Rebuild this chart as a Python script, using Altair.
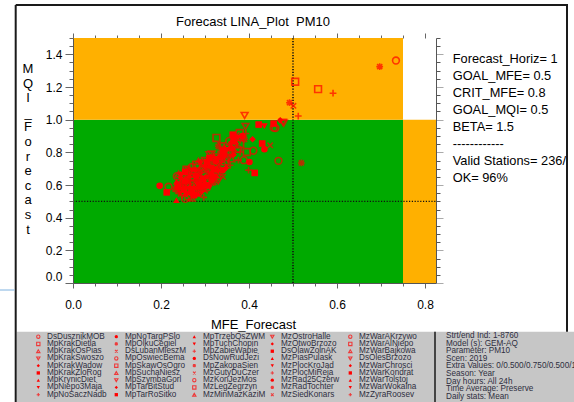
import altair as alt
import pandas as pd

FONT = "Liberation Sans"
RED = "#ff0000"

# ---------------- target values and diagram zones ----------------
GOAL_MFE = 0.5
GOAL_MQI = 0.5
MFE_MAX = 0.825
MQI_MAX = 1.5

zone_x0 = [0.0, 0.0, 0.75]
zone_x1 = [0.75, 0.75, 0.825]
zone_y0 = [0.0, 1.0, 0.0]
zone_y1 = [1.0, 1.5, 1.0]
zone_fill = ["#00aa00", "#ffb000", "#ffb000"]

# ---------------- station results ----------------
# marker codes: o open circle, s open square, tu/td open triangles, D diamond,
# S filled square, TU/TD filled triangles, + plus, O filled circle, * asterisk, x cross
MARKERS = ["o", "s", "tu", "td", "D", "S", "TU", "TD", "+", "O", "*", "x"]

spread_mfe = [0.734, 0.697, 0.505, 0.557, 0.591, 0.492, 0.501, 0.512, 0.471, 0.477,
              0.456, 0.467, 0.519, 0.448, 0.390, 0.392, 0.422, 0.435, 0.456, 0.460,
              0.479, 0.326, 0.363, 0.379, 0.393, 0.408, 0.430, 0.435, 0.330, 0.399,
              0.413, 0.197, 0.217, 0.213, 0.297, 0.341, 0.380, 0.376, 0.395, 0.410,
              0.401, 0.388, 0.357, 0.235, 0.236]
spread_mqi = [1.362, 1.325, 1.232, 1.187, 1.162, 1.104, 1.085, 1.022, 0.996, 0.985,
              0.951, 0.748, 0.735, 0.843, 1.026, 0.959, 0.970, 0.961, 0.976, 0.949,
              0.979, 0.888, 0.908, 0.918, 0.915, 0.880, 0.854, 0.819, 0.837, 0.691,
              0.674, 0.595, 0.589, 0.555, 0.524, 0.650, 0.802, 0.752, 0.802, 0.810,
              0.741, 0.752, 0.721, 0.508, 0.654]
spread_marker = ["o", "*", "s", "s", "+", "*", "x", "+", "D", "td",
                 "o", "o", "*", "x", "td", "td", "S", "TD", "S", "o",
                 "td", "s", "S", "s", "+", "D", "S", "O", "*", "+",
                 "S", "O", "o", "S", "+", "x", "+", "+", "s", "o",
                 "O", "o", "+", "TU", "o"]

core_mfe = [0.255, 0.262, 0.270, 0.248, 0.258, 0.275, 0.285, 0.292, 0.240, 0.268,
            0.232, 0.240, 0.245, 0.250, 0.255, 0.260, 0.265, 0.270, 0.275, 0.280,
            0.285, 0.290, 0.295, 0.300, 0.305, 0.248, 0.262, 0.278, 0.310, 0.238,
            0.235, 0.245, 0.250, 0.255, 0.260, 0.265, 0.270, 0.275, 0.280, 0.285,
            0.290, 0.295, 0.300, 0.305, 0.310, 0.315, 0.320, 0.325, 0.272, 0.258,
            0.288, 0.330, 0.245, 0.255, 0.265, 0.270, 0.275, 0.280, 0.285, 0.290,
            0.295, 0.300, 0.305, 0.310, 0.315, 0.320, 0.325, 0.330, 0.335, 0.340,
            0.260, 0.312, 0.270, 0.280, 0.290, 0.295, 0.300, 0.305, 0.310, 0.315,
            0.320, 0.325, 0.330, 0.335, 0.340, 0.345, 0.285, 0.300, 0.348, 0.310,
            0.320, 0.325, 0.330, 0.335, 0.340, 0.345, 0.350, 0.355, 0.360, 0.315,
            0.365, 0.340, 0.345, 0.350, 0.355, 0.360, 0.365, 0.370, 0.375, 0.380,
            0.352, 0.338, 0.360, 0.365, 0.370, 0.375, 0.380, 0.385, 0.390, 0.372,
            0.355, 0.258, 0.240, 0.310, 0.289, 0.252, 0.266, 0.282, 0.298, 0.318,
            0.243, 0.268, 0.293, 0.308, 0.322, 0.262, 0.278, 0.302, 0.328, 0.344]
core_mqi = [0.515, 0.530, 0.520, 0.540, 0.545, 0.538, 0.545, 0.550, 0.548, 0.552,
            0.575, 0.565, 0.580, 0.560, 0.590, 0.570, 0.585, 0.565, 0.595, 0.575,
            0.560, 0.590, 0.575, 0.565, 0.585, 0.598, 0.600, 0.555, 0.595, 0.590,
            0.620, 0.635, 0.610, 0.625, 0.645, 0.615, 0.630, 0.610, 0.640, 0.620,
            0.605, 0.635, 0.620, 0.645, 0.610, 0.630, 0.615, 0.640, 0.648, 0.605,
            0.648, 0.625, 0.665, 0.680, 0.660, 0.690, 0.670, 0.655, 0.685, 0.665,
            0.695, 0.675, 0.660, 0.685, 0.670, 0.695, 0.660, 0.680, 0.665, 0.690,
            0.695, 0.698, 0.710, 0.725, 0.705, 0.735, 0.715, 0.740, 0.720, 0.705,
            0.730, 0.745, 0.710, 0.735, 0.720, 0.745, 0.745, 0.750, 0.705, 0.765,
            0.780, 0.760, 0.790, 0.770, 0.755, 0.785, 0.770, 0.795, 0.760, 0.790,
            0.785, 0.810, 0.830, 0.815, 0.845, 0.825, 0.810, 0.840, 0.820, 0.850,
            0.800, 0.840, 0.860, 0.875, 0.865, 0.890, 0.875, 0.900, 0.880, 0.905,
            0.870, 0.694, 0.667, 0.786, 0.741, 0.572, 0.558, 0.602, 0.628, 0.652,
            0.608, 0.672, 0.612, 0.702, 0.758, 0.632, 0.692, 0.598, 0.702, 0.772]

# ---------------- station names of the legend ----------------
stations = [
    "DsDusznikMOB", "MpKrakDietla", "MpKrakOsPias", "MpKrakSwoszo", "MpKrakWadow",
    "MpKrakZloRog", "MpKrynicDiet", "MpNiepo3Maja", "MpNoSaczNadb",
    "MpNoTargPSlo", "MpOlkuCegiel", "DsLubanMieszM", "MpOswiecBema", "MpSkawOsOgro",
    "MpSuchaNiesz", "MpSzymbaGorl", "MpTarBitStud", "MpTarRoSitko",
    "MpTrzebOsZWM", "MpTuchChopin", "MpZabieWapie", "DsNowRudJezi", "MpZakopaSien",
    "MzGutyDuCzer", "MzKonJezMos", "MzLegZegrzyn", "MzMinMazKaziM",
    "MzOstroHalle", "MzOtwoBrzozo", "DsOlawZolnAK", "MzPiasPulask", "MzPlocKroJad",
    "MzPlocMiReja", "MzRad25Czerw", "MzRadTochter", "MzSiedKonars",
    "MzWarAKrzywo", "MzWarAlNiepo", "MzWarBajkowa", "DsOlesBrzozo", "MzWarChrosci",
    "MzWarKondrat", "MzWarTolstoj", "MzWarWokalna", "MzZyraRoosev",
]

settings_lines = ["Forecast_Horiz= 1", "GOAL_MFE= 0.5", "CRIT_MFE= 0.8", "GOAL_MQI= 0.5",
                  "BETA= 1.5", "------------", "Valid Stations= 236/246", "OK= 96%"]
info_lines = ["Strt/end Ind: 1-8760", "Model (s): GEM-AQ", "Parameter: PM10", "Scen: 2019",
              "Extra Values: 0/0.500/0.750/0.500/1.500", "Season: Year", "Day hours: All 24h",
              "Time Average: Preserve", "Daily stats: Mean"]

# ---------------- tables ----------------
pts = pd.DataFrame({
    "mfe": spread_mfe + core_mfe,
    "mqi": spread_mqi + core_mqi,
    "marker": spread_marker + [MARKERS[i % 12] for i in range(len(core_mfe))],
})
OPEN = ["o", "s", "tu", "td", "+", "*", "x"]
pts_open = pts[pts.marker.isin(OPEN)]
pts_fill = pts[~pts.marker.isin(OPEN)]

zones = pd.DataFrame({"x0": zone_x0, "x1": zone_x1, "y0": zone_y0, "y1": zone_y1, "c": zone_fill})

# legend grid: 9 rows per column, positions in pixels relative to the plot origin
ROWS = 9
leg = pd.DataFrame({
    "name": stations,
    "marker": [MARKERS[i % 12] for i in range(len(stations))],
    "mx": [-34.7 + 78 * (i // ROWS) for i in range(len(stations))],
    "tx": [-26.0 + 78 * (i // ROWS) for i in range(len(stations))],
    "ly": [298.7 + 7.25 * (i % ROWS) for i in range(len(stations))],
})
leg_open = leg[leg.marker.isin(OPEN)]
leg_fill = leg[~leg.marker.isin(OPEN)]

# ---------------- scales / shapes ----------------
xs = alt.Scale(domain=[0, MFE_MAX], nice=False, zero=False)
ys = alt.Scale(domain=[0, MQI_MAX], nice=False, zero=False)

PLUS = "M-1,0L1,0M0,-1L0,1"
CROSS = "M-0.8,-0.8L0.8,0.8M-0.8,0.8L0.8,-0.8"
ASTER = "M-1,0L1,0M0,-1L0,1M-0.75,-0.75L0.75,0.75M-0.75,0.75L0.75,-0.75"
shape_scale = alt.Scale(
    domain=MARKERS,
    range=["circle", "square", "triangle-up", "triangle-down", "diamond", "square",
           "triangle-up", "triangle-down", PLUS, "circle", ASTER, CROSS],
)

xticks = [round(0.05 * i, 2) for i in range(17)]
yticks = [round(0.05 * i, 2) for i in range(31)]
MAJOR = "abs(datum.value*5 - round(datum.value*5)) < 0.001"
LABEL = f"{MAJOR} ? format(datum.value, '.1f') : ''"


def ticksize(major, minor):
    return {"condition": {"test": MAJOR, "value": major}, "value": minor}


# ---------------- layers ----------------
zone_layer = alt.Chart(zones).mark_rect().encode(
    x=alt.X("x0:Q", scale=xs, axis=None), x2="x1:Q",
    y=alt.Y("y0:Q", scale=ys, axis=None), y2="y1:Q",
    color=alt.Color("c:N", scale=None),
)

vgoal = alt.Chart(pd.DataFrame({"x": [GOAL_MFE], "y0": [0.0], "y1": [MQI_MAX]})).mark_rule(
    color="#111111", strokeWidth=1.6, strokeDash=[1.2, 1.6]
).encode(x=alt.X("x:Q", scale=xs, axis=None), y=alt.Y("y0:Q", scale=ys, axis=None), y2="y1:Q")

hgoal = alt.Chart(pd.DataFrame({"y": [GOAL_MQI], "x0": [0.0], "x1": [MFE_MAX]})).mark_rule(
    color="#111111", strokeWidth=1.3, strokeDash=[1.2, 1.6]
).encode(y=alt.Y("y:Q", scale=ys, axis=None), x=alt.X("x0:Q", scale=xs, axis=None), x2="x1:Q")

axis_common = dict(grid=False, zindex=1, title=None, labelFont=FONT, labelColor="#000000",
                   labelOverlap=False, tickColor="#666666", domainColor="#555555")

open_layer = alt.Chart(pts_open).mark_point(filled=False, strokeWidth=1.6, size=46, color=RED).encode(
    x=alt.X("mfe:Q", scale=xs, axis=alt.Axis(
        orient="bottom", values=xticks, labelExpr=LABEL, labelFontSize=12, labelFlush=False,
        tickSize=ticksize(5, 3), labelPadding=11, **axis_common)),
    y=alt.Y("mqi:Q", scale=ys, axis=alt.Axis(
        orient="left", values=yticks, labelExpr=LABEL, labelFontSize=12, labelFlush=True,
        tickSize=ticksize(8, 4), labelPadding=3, **axis_common)),
    shape=alt.Shape("marker:N", scale=shape_scale, legend=None),
)

frame_axes = alt.Chart(pts).mark_point(opacity=0).encode(
    x=alt.X("mfe:Q", scale=xs, axis=alt.Axis(
        orient="top", values=xticks, labels=False, domain=False, tickSize=ticksize(5, 3),
        grid=False, title=None, tickColor="#666666")),
    y=alt.Y("mqi:Q", scale=ys, axis=alt.Axis(
        orient="right", values=yticks, labels=False, tickSize=ticksize(7, 4), grid=False,
        title=None, zindex=1, domainColor="#555555",
        tickColor={"condition": {"test": MAJOR, "value": "#aaaaaa"}, "value": "#555555"})),
)

fill_layer = alt.Chart(pts_fill).mark_point(filled=True, size=44, color=RED, opacity=1).encode(
    x=alt.X("mfe:Q", scale=xs, axis=None),
    y=alt.Y("mqi:Q", scale=ys, axis=None),
    shape=alt.Shape("marker:N", scale=shape_scale, legend=None),
)


def text(lines, x, y, size, color="#000000", **kw):
    return alt.Chart(pd.DataFrame({"k": [0]})).mark_text(
        font=FONT, fontSize=size, color=color, **kw
    ).encode(x=alt.value(x), y=alt.value(y), text=alt.value(lines))


title = text("Forecast LINA_Plot\u00a0 PM10", 180, -12, 13, align="center", baseline="alphabetic")
xtitle = text("MFE_Forecast", 180.5, 290.5, 13, align="center", baseline="alphabetic")
ytitle = text(list("MQI_Forecast"), -45, 25, 13, align="center", baseline="top", lineHeight=14.6)
settings = text(settings_lines, 379.7, 15, 12.8, align="left", baseline="top", lineHeight=17)
info = text(info_lines, 373, 294, 8.2, color="#2e2e3e", align="left", baseline="top", lineHeight=7.6)


def box(x, x2, y, y2, color):
    return alt.Chart(pd.DataFrame({"k": [0]})).mark_rect(color=color).encode(
        x=alt.value(x), x2=alt.value(x2), y=alt.value(y), y2=alt.value(y2))


def line(x, x2, y, y2, color, width):
    return alt.Chart(pd.DataFrame({"k": [0]})).mark_rule(color=color, strokeWidth=width).encode(
        x=alt.value(x), x2=alt.value(x2), y=alt.value(y), y2=alt.value(y2))


clip_right = box(495, 520, -40, 294, "#ffffff")
panel = box(-56.3, 520, 293.7, 380, "#c6c6c6")
separator = line(362, 362, 293.7, 380, "#444444", 2)

leg_open_layer = alt.Chart(leg_open).mark_point(filled=False, size=11, strokeWidth=1.1, color=RED).encode(
    x=alt.X("mx:Q", scale=None, axis=None), y=alt.Y("ly:Q", scale=None, axis=None),
    shape=alt.Shape("marker:N", scale=shape_scale, legend=None),
)
leg_fill_layer = alt.Chart(leg_fill).mark_point(filled=True, size=11, color=RED, opacity=1).encode(
    x=alt.X("mx:Q", scale=None, axis=None), y=alt.Y("ly:Q", scale=None, axis=None),
    shape=alt.Shape("marker:N", scale=shape_scale, legend=None),
)
leg_names = alt.Chart(leg).mark_text(
    font=FONT, fontSize=8.2, color="#2e2e3e", align="left", baseline="middle"
).encode(x=alt.X("tx:Q", scale=None, axis=None), y=alt.Y("ly:Q", scale=None, axis=None), text="name:N")

frame = [
    line(-57.3, 495, -33, -33, "#1a1a1a", 2),
    line(-57.3, -57.3, -33, 380, "#1a1a1a", 2),
    line(494, 494, -33, 293.7, "#1a1a1a", 2),
    line(-73, -58.5, 252, 252, "#7fb2e0", 1),
]

chart = alt.layer(
    zone_layer, vgoal, hgoal, frame_axes, open_layer, fill_layer,
    title, xtitle, ytitle, settings, clip_right, panel, separator,
    leg_open_layer, leg_fill_layer, leg_names, info, *frame,
).resolve_axis(x="independent", y="independent").properties(
    width=363, height=245,
    padding={"left": 73, "top": 38, "right": 138, "bottom": 119},
    autosize=alt.AutoSizeParams(type="none"),
    background="#ffffff",
).configure_view(stroke=None)

chart.save("out.html", embed_options={"renderer": "svg", "actions": False})
